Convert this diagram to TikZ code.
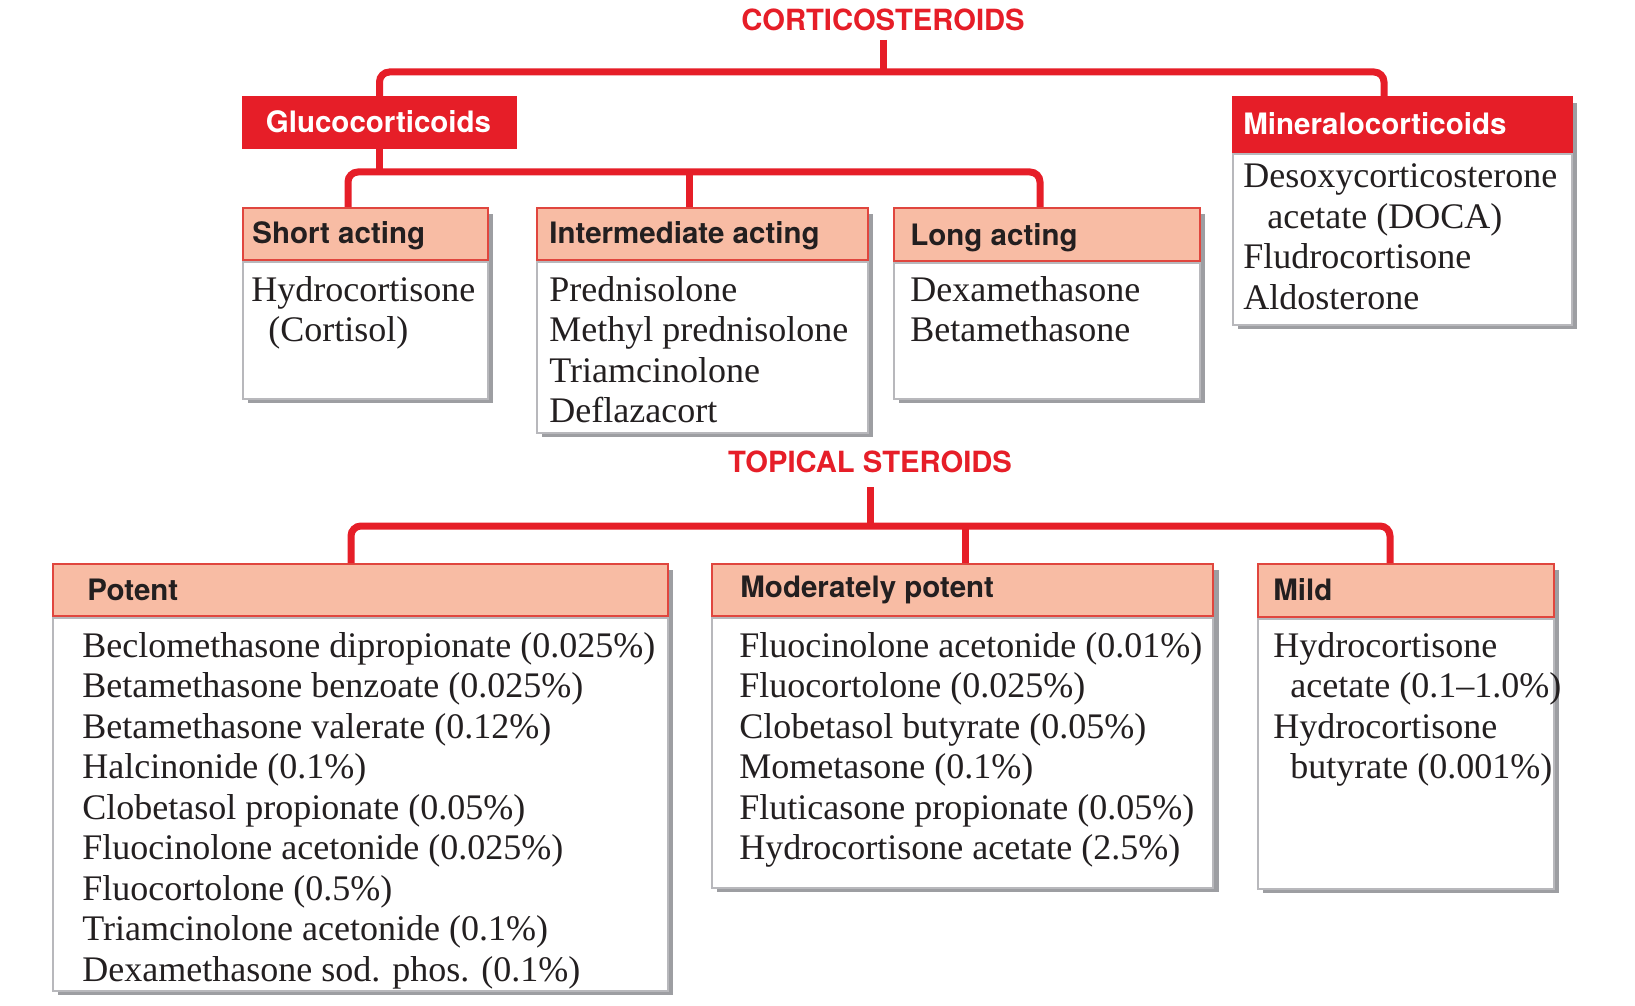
\documentclass[tikz,border=0pt]{standalone}
\usepackage{fontspec}
\setmainfont{Liberation Serif}
\newfontfamily\hdrfont{TeX Gyre Heros}
\usetikzlibrary{calc}
\definecolor{cred}{HTML}{E61E28}
\definecolor{salmon}{HTML}{F8BCA4}
\definecolor{hdrline}{HTML}{E0463E}
\definecolor{bodyline}{HTML}{B8B8BC}
\definecolor{shadowgray}{HTML}{9D9EA2}
\definecolor{ink}{HTML}{231F20}
\begin{document}
\begin{tikzpicture}[x=0.5pt,y=-0.5pt,
  conn/.style={draw=cred, line width=3.5pt, rounded corners=5pt},
  titletext/.style={text=cred, font=\hdrfont\bfseries\fontsize{14.6}{17}\selectfont, inner sep=0pt, anchor=base},
  hdrtext/.style={text=ink, font=\hdrfont\bfseries\fontsize{14.75}{17}\selectfont, inner sep=0pt, anchor=base west},
  bodytext/.style={text=ink, font=\fontsize{18}{20.25}\selectfont, inner sep=0pt, anchor=base west, align=left},
  hdrbox/.style={rectangle, fill=salmon, draw=hdrline, line width=1pt, anchor=north west, inner sep=0pt},
  redbox/.style={rectangle, fill=cred, draw=cred, line width=1pt, anchor=north west, inner sep=0pt},
  bodybox/.style={rectangle, fill=white, draw=bodyline, line width=1pt, anchor=north west, inner sep=0pt},
  shadowbox/.style={fill=shadowgray}
]
\useasboundingbox (0,0) rectangle (1635,1006);
\fill[white] (0,0) rectangle (1635,1006);

% shadows
\fill[shadowbox] (1238,103) rectangle (1577,329);
\fill[shadowbox] (248,214) rectangle (493,403);
\fill[shadowbox] (542,214) rectangle (873,437);
\fill[shadowbox] (899,214) rectangle (1205,403);
\fill[shadowbox] (58,570) rectangle (673,995);
\fill[shadowbox] (717,570) rectangle (1219,892);
\fill[shadowbox] (1263,570) rectangle (1559,893);

% titles
\node[titletext] (cort) at (883,31) {CORTICOSTEROIDS};
\node[titletext] (topical) at (870,472) {TOPICAL STEROIDS};

% glucocorticoids
\node[redbox, minimum width=136.5pt, minimum height=25.5pt] (glucoH) at (242,96) {};
\node[text=white, font=\hdrfont\bfseries\fontsize{14.75}{17}\selectfont, inner sep=0pt, anchor=base] (glucoL) at (378.5,133) {Glucocorticoids};

% mineralocorticoids (base anchor = last line baseline)
\node[redbox, minimum width=169.5pt, minimum height=27.5pt] (mineraH) at (1232,96) {};
\node[bodybox, minimum width=169.5pt, minimum height=85.5pt] (mineraB) at (mineraH.south west) {};
\node[hdrtext, text=white] (mineraL) at (1243,135) {Mineralocorticoids};
\node[bodytext] (mineraT) at (1243,309) {Desoxycorticosterone\\\hspace*{12pt}acetate (DOCA)\\Fludrocortisone\\Aldosterone};

% short acting
\node[hdrbox, minimum width=122.5pt, minimum height=26pt] (shortH) at (242,207) {};
\node[bodybox, minimum width=122.5pt, minimum height=68.5pt] (shortB) at (shortH.south west) {};
\node[hdrtext] (shortL) at (252,243) {Short acting};
\node[bodytext] (shortT) at (251,341.5) {Hydrocortisone\\\hspace*{8.5pt}(Cortisol)};

% intermediate acting
\node[hdrbox, minimum width=165.5pt, minimum height=26pt] (interH) at (536,207) {};
\node[bodybox, minimum width=165.5pt, minimum height=85.5pt] (interB) at (interH.south west) {};
\node[hdrtext] (interL) at (549,243) {Intermediate acting};
\node[bodytext] (interT) at (549,422.5) {Prednisolone\\Methyl prednisolone\\Triamcinolone\\Deflazacort};

% long acting
\node[hdrbox, minimum width=153pt, minimum height=26.5pt] (longH) at (893,207) {};
\node[bodybox, minimum width=153pt, minimum height=68pt] (longB) at (longH.south west) {};
\node[hdrtext] (longL) at (910,245) {Long acting};
\node[bodytext] (longT) at (910,341.5) {Dexamethasone\\Betamethasone};

% potent
\node[hdrbox, minimum width=307.5pt, minimum height=26pt] (potentH) at (52,563) {};
\node[bodybox, minimum width=307.5pt, minimum height=186.5pt] (potentB) at (potentH.south west) {};
\node[hdrtext] (potentL) at (87,600) {Potent};
\node[bodytext] (potentT) at (82,981) {Beclomethasone dipropionate (0.025\%)\\Betamethasone benzoate (0.025\%)\\Betamethasone valerate (0.12\%)\\Halcinonide (0.1\%)\\Clobetasol propionate (0.05\%)\\Fluocinolone acetonide (0.025\%)\\Fluocortolone (0.5\%)\\Triamcinolone acetonide (0.1\%)\\Dexamethasone sod. phos. (0.1\%)};

% moderately potent
\node[hdrbox, minimum width=250.5pt, minimum height=26pt] (modH) at (711,563) {};
\node[bodybox, minimum width=250.5pt, minimum height=135pt] (modB) at (modH.south west) {};
\node[hdrtext] (modL) at (740,597) {Moderately potent};
\node[bodytext] (modT) at (739,859.5) {Fluocinolone acetonide (0.01\%)\\Fluocortolone (0.025\%)\\Clobetasol butyrate (0.05\%)\\Mometasone (0.1\%)\\Fluticasone propionate (0.05\%)\\Hydrocortisone acetate (2.5\%)};

% mild
\node[hdrbox, minimum width=148pt, minimum height=26.5pt] (mildH) at (1257,563) {};
\node[bodybox, minimum width=148pt, minimum height=135pt] (mildB) at (mildH.south west) {};
\node[hdrtext] (mildL) at (1273,600) {Mild};
\node[bodytext] (mildT) at (1273,778.5) {Hydrocortisone\\\hspace*{8.5pt}acetate (0.1–1.0\%)\\Hydrocortisone\\\hspace*{8.5pt}butyrate (0.001\%)};

% connectors
\coordinate (bar1) at (0,72);
\coordinate (bar2) at (0,172);
\coordinate (bar3) at (0,526);
\draw[conn] ($(cort.base)+(0,9)$) -- (cort.base |- bar1);
\draw[conn] (glucoH.north) |- ($(mineraH.north west)+(152,-24)$) -- ($(mineraH.north west)+(152,0)$);
\draw[conn] (glucoH.south) -- (glucoH.south |- bar2);
\draw[conn] ($(shortH.north west)+(106,0)$) |- ($(longH.north west)+(147,-35)$) -- ($(longH.north west)+(147,0)$);
\draw[conn] ($(interH.north west)+(153,0)$) -- ($(interH.north west)+(153,-35)$);
\draw[conn] ($(topical.base)+(0,15)$) -- (topical.base |- bar3);
\draw[conn] ($(potentH.north west)+(299,0)$) |- ($(mildH.north west)+(133,-37)$) -- ($(mildH.north west)+(133,0)$);
\draw[conn] ($(modH.north west)+(254,0)$) -- ($(modH.north west)+(254,-37)$);
\end{tikzpicture}
\end{document}
